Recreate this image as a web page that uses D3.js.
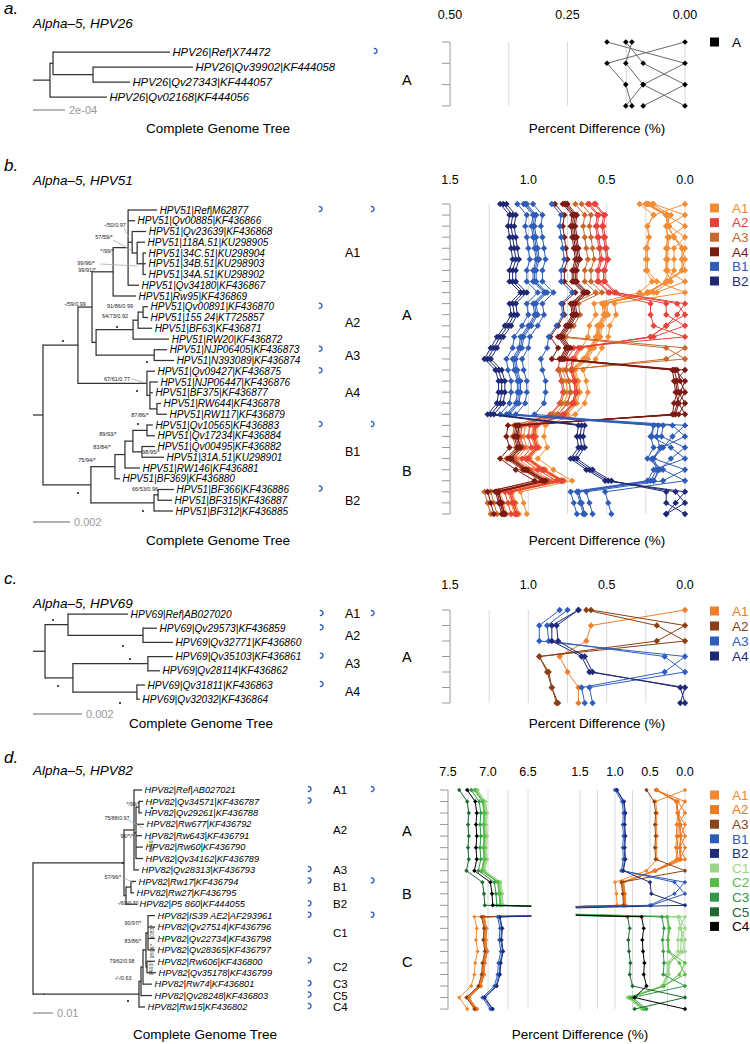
<!DOCTYPE html>
<html><head><meta charset="utf-8">
<script src="https://cdn.jsdelivr.net/npm/d3@7"></script>
<style>body{margin:0;background:#fff}text{font-family:"Liberation Sans",Arial,Helvetica,sans-serif}</style>
</head><body><script>
// ================= DATA =================
// ---- panel a (HPV26)
const tipsA = ["HPV26|Ref|X74472","HPV26|Qv39902|KF444058","HPV26|Qv27343|KF444057","HPV26|Qv02168|KF444056"];
const groupsA = ["A","A","A","A"];
const treeA = "((0:0.000731,(1:0.000625,2:0.000231):0.00025):0.000019,3:0.000356):0.000106;";
const distA = [[0.166],[0.126,0.089],[0.113,0.126,0.089]];
const ticksA = [0.5,0.25,0]; const tickLabA = ["0.50","0.25","0.00"]; const gridA = [0.375,0.25,0.125,0];
const legendA = ["A"];

// ---- panel b (HPV51)
const tipsB = ["HPV51|Ref|M62877","HPV51|Qv00885|KF436866","HPV51|Qv23639|KF436868","HPV51|118A.51|KU298905","HPV51|34C.51|KU298904","HPV51|34B.51|KU298903","HPV51|34A.51|KU298902","HPV51|Qv34180|KF436867","HPV51|Rw95|KF436869","HPV51|Qv00891|KF436870","HPV51|155 24|KT725857","HPV51|BF63|KF436871","HPV51|RW20|KF436872","HPV51|NJP06405|KF436873","HPV51|N393089|KF436874","HPV51|Qv09427|KF436875","HPV51|NJP06447|KF436876","HPV51|BF375|KF436877","HPV51|RW644|KF436878","HPV51|RW117|KF436879","HPV51|Qv10565|KF436883","HPV51|Qv17234|KF436884","HPV51|Qv00495|KF436882","HPV51|31A.51|KU298901","HPV51|RW146|KF436881","HPV51|BF369|KF436880","HPV51|BF366|KF436886","HPV51|BF315|KF436887","HPV51|BF312|KF436885"];
const groupsB = ["A1","A1","A1","A1","A1","A1","A1","A1","A1","A2","A2","A2","A2","A3","A3","A4","A4","A4","A4","A4","B1","B1","B1","B1","B1","B1","B2","B2","B2"];
const treeB_A1 = "((0:0.00157,1:0.00038,(2:0.00076,(3:0.00043,(4:0.00016,5:0.00016,6:0.00016):0.00032):0.00027):0.00022,7:0.00059):0.00081,8:0.00124):0.00114";
const treeB_A23 = "((((9:0.00027,10:0.00027):0.00027,11:0.00076):0.00027,12:0.00195):0.002,(13:0.0007,14:0.00108):0.00314):0.00022";
const treeB_A4 = "(15:0.00043,(16:0.00043,17:0.00016,(18:0.00022,19:0.00054):0.00038):0.00016):0.00373";
const treeB_B = "(((((20:0.00032,21:0.00043):0.00076,(22:0.0007,23:0.00119):0.00049):0.00043,24:0.00081):0.00054,25:0.00027):0.0013,((26:0.00086,27:0.00076):0.00022,28:0.00103):0.00341):0.00259";
const treeB = "(((" + treeB_A1 + "," + treeB_A23 + "):0.00076," + treeB_A4 + "):0.00189," + treeB_B + "):0.00054;";
const distB = [
[0.20],
[0.24,0.12],
[0.23,0.11,0.10],
[0.25,0.12,0.11,0.07],
[0.25,0.12,0.11,0.07,0.02],
[0.25,0.12,0.11,0.07,0.02,0.02],
[0.21,0.09,0.12,0.11,0.12,0.12,0.12],
[0.29,0.20,0.24,0.23,0.24,0.24,0.24,0.18],
[0.58,0.52,0.53,0.52,0.51,0.50,0.52,0.52,0.45],
[0.57,0.51,0.52,0.51,0.50,0.49,0.51,0.51,0.44,0.05],
[0.61,0.55,0.56,0.55,0.54,0.53,0.55,0.55,0.48,0.12,0.12],
[0.62,0.56,0.57,0.56,0.55,0.54,0.56,0.56,0.49,0.22,0.22,0.20],
[0.66,0.60,0.61,0.60,0.59,0.58,0.60,0.60,0.53,0.68,0.67,0.71,0.76],
[0.70,0.64,0.65,0.64,0.63,0.62,0.64,0.64,0.57,0.72,0.71,0.75,0.80,0.12],
[0.78,0.72,0.73,0.72,0.71,0.70,0.72,0.72,0.65,0.73,0.72,0.76,0.81,0.76,0.80],
[0.76,0.70,0.71,0.70,0.69,0.68,0.70,0.70,0.63,0.71,0.70,0.74,0.79,0.74,0.78,0.06],
[0.75,0.69,0.70,0.69,0.68,0.67,0.69,0.69,0.62,0.70,0.69,0.73,0.78,0.73,0.77,0.05,0.03],
[0.77,0.71,0.72,0.71,0.70,0.69,0.71,0.71,0.64,0.72,0.71,0.75,0.80,0.75,0.79,0.07,0.05,0.04],
[0.83,0.77,0.78,0.77,0.76,0.75,0.77,0.77,0.70,0.78,0.77,0.81,0.86,0.81,0.85,0.08,0.07,0.06,0.04],
[1.02,0.96,0.97,0.96,0.95,0.94,0.96,0.96,0.89,0.96,0.95,0.99,1.04,1.05,1.09,1.08,1.06,1.06,1.07,1.13],
[1.03,0.97,0.98,0.97,0.96,0.95,0.97,0.97,0.90,0.97,0.96,1.00,1.05,1.06,1.10,1.09,1.07,1.07,1.08,1.14,0.08],
[1.01,0.95,0.96,0.95,0.94,0.93,0.95,0.95,0.88,0.95,0.94,0.98,1.03,1.04,1.08,1.07,1.05,1.05,1.06,1.12,0.14,0.15],
[1.07,1.01,1.02,1.01,1.00,0.99,1.01,1.01,0.94,1.01,1.00,1.04,1.09,1.10,1.14,1.13,1.11,1.11,1.12,1.18,0.20,0.21,0.09],
[0.97,0.91,0.92,0.91,0.90,0.89,0.91,0.91,0.84,0.91,0.90,0.94,0.99,1.00,1.04,1.03,1.01,1.01,1.02,1.08,0.17,0.18,0.16,0.20],
[0.85,0.79,0.80,0.79,0.78,0.77,0.79,0.79,0.72,0.79,0.78,0.82,0.87,0.88,0.92,0.91,0.89,0.89,0.90,0.96,0.20,0.22,0.20,0.24,0.14],
[1.18,1.12,1.13,1.12,1.11,1.10,1.12,1.12,1.05,1.12,1.11,1.15,1.20,1.24,1.28,1.21,1.19,1.19,1.20,1.26,0.68,0.69,0.68,0.73,0.63,0.51],
[1.16,1.10,1.11,1.10,1.09,1.08,1.10,1.10,1.03,1.10,1.09,1.13,1.18,1.22,1.26,1.19,1.17,1.17,1.18,1.24,0.66,0.67,0.66,0.71,0.61,0.49,0.06],
[1.14,1.08,1.09,1.08,1.07,1.06,1.08,1.08,1.01,1.08,1.07,1.11,1.16,1.20,1.24,1.17,1.15,1.15,1.16,1.22,0.64,0.65,0.64,0.69,0.59,0.47,0.12,0.12]];
const ticksB = [1.5,1.0,0.5,0.0]; const tickLabB = ["1.5","1.0","0.5","0.0"]; const gridB = [1.25,1.0,0.75,0.5,0.25,0];
const legendB = ["A1","A2","A3","A4","B1","B2"];

// ---- panel c (HPV69)
const tipsC = ["HPV69|Ref|AB027020","HPV69|Qv29573|KF436859","HPV69|Qv32771|KF436860","HPV69|Qv35103|KF436861","HPV69|Qv28114|KF436862","HPV69|Qv31811|KF436863","HPV69|Qv32032|KF436864"];
const groupsC = ["A1","A2","A2","A3","A3","A4","A4"];
const treeC = "((0:0.00245,(1:0.00057,2:0.00122):0.00306):0.00094,((3:0.00102,4:0.00049):0.00306,(5:0.00033,6:0.00012):0.00261):0.00114):0.00049;";
const distC = [
[0.60],
[0.63,0.18],
[0.80,0.93,0.93],
[0.75,0.88,0.87,0.13],
[0.68,0.85,0.85,0.66,0.61],
[0.68,0.82,0.81,0.64,0.59,0.03]];
const legendC = ["A1","A2","A3","A4"];

// ---- panel d (HPV82)
const tipsD = ["HPV82|Ref|AB027021","HPV82|Qv34571|KF436787","HPV82|Qv29261|KF436788","HPV82|Rw677|KF436792","HPV82|Rw643|KF436791","HPV82|Rw60|KF436790","HPV82|Qv34162|KF436789","HPV82|Qv28313|KF436793","HPV82|Rw17|KF436794","HPV82|Rw27|KF436795","HPV82|P5 860|KF444055","HPV82|IS39 AE2|AF293961","HPV82|Qv27514|KF436796","HPV82|Qv22734|KF436798","HPV82|Qv28365|KF436797","HPV82|Rw606|KF436800","HPV82|Qv35178|KF436799","HPV82|Rw74|KF436801","HPV82|Qv28248|KF436803","HPV82|Rw15|KF436802"];
const groupsD = ["A1","A2","A2","A2","A2","A2","A2","A3","B1","B1","B2","C1","C1","C1","C1","C2","C2","C3","C5","C4"];
const treeD_AB = "((0:0.004,((1:0.002,2:0.0015):0.0015,3:0.004,4:0.003,5:0.0035,6:0.0035):0.001,7:0.0025):0.005,((8:0.0025,9:0.0015):0.0025,10:0.0055):0.001):0.0455";
const treeD_C = "((((((11:0.0035,12:0.0035,13:0.0035,14:0.0035):0.001,(15:0.004,16:0.0045):0.0005):0.0015,17:0.0045):0.001,18:0.0055):0.001,19:0.003):0.0475";
const treeD = "(" + treeD_AB + "," + treeD_C + "):0.0055;";
const distD = [
[0.42],
[0.40,0.10],
[0.41,0.12,0.10],
[0.40,0.12,0.10,0.06],
[0.41,0.13,0.11,0.08,0.07],
[0.40,0.12,0.10,0.07,0.06,0.07],
[0.55,0.44,0.42,0.43,0.42,0.43,0.42],
[1.00,0.90,0.88,0.89,0.88,0.89,0.88,0.91],
[0.98,0.88,0.86,0.87,0.86,0.87,0.86,0.89,0.15],
[0.97,0.87,0.85,0.86,0.85,0.86,0.85,0.88,0.50,0.48],
[7.17,7.07,7.05,7.06,7.05,7.06,7.05,7.08,6.88,6.86,6.85],
[7.14,7.04,7.02,7.03,7.02,7.03,7.02,7.05,6.85,6.83,6.82,0.08],
[7.15,7.05,7.03,7.04,7.03,7.04,7.03,7.06,6.86,6.84,6.83,0.10,0.06],
[7.13,7.03,7.01,7.02,7.01,7.02,7.01,7.04,6.84,6.82,6.81,0.10,0.06,0.04],
[7.16,7.06,7.04,7.05,7.04,7.05,7.04,7.07,6.87,6.85,6.84,0.25,0.22,0.24,0.23],
[7.17,7.07,7.05,7.06,7.05,7.06,7.05,7.08,6.88,6.86,6.85,0.26,0.23,0.25,0.24,0.08],
[7.21,7.11,7.09,7.10,7.09,7.10,7.09,7.12,6.92,6.90,6.89,0.33,0.30,0.32,0.31,0.30,0.31],
[7.36,7.26,7.24,7.25,7.24,7.25,7.24,7.27,7.07,7.05,7.04,0.82,0.79,0.81,0.80,0.78,0.79,0.75],
[7.26,7.16,7.14,7.15,7.14,7.15,7.14,7.17,6.97,6.95,6.94,0.62,0.59,0.61,0.60,0.58,0.59,0.55,0.72]];
const ticksDL = [7.5,7.0,6.5]; const tickLabDL = ["7.5","7.0","6.5"]; const gridDL = [7.25,7.0,6.75,6.5];
const ticksDR = [1.5,1.0,0.5,0.0]; const tickLabDR = ["1.5","1.0","0.5","0.0"]; const gridDR = [1.5,1.25,1.0,0.75,0.5,0.25,0];
const legendD = ["A1","A2","A3","B1","B2","C1","C2","C3","C5","C4"];

// ================= STYLE =================
const COL = {
  a:{A:"#000000"},
  b:{A1:"#F28C35",A2:"#E8423A",A3:"#C8682C",A4:"#7D1A14",B1:"#2F5CB8",B2:"#1E2876"},
  c:{A1:"#EE7E2C",A2:"#8B3F16",A3:"#2F5EC0",A4:"#1E2876"},
  d:{A1:"#F5882E",A2:"#EC7A24",A3:"#8B4416",B1:"#2D5DB8",B2:"#1E2A7A",C1:"#9AD58A",C2:"#58BD44",C3:"#2F9849",C5:"#1C6A30",C4:"#000000"}
};
const MARK = "#2E5FC0";

const svg = d3.select("body").append("svg").attr("width",750).attr("height",1044);
svg.append("rect").attr("width",750).attr("height",1044).attr("fill","#fff");
const defs = svg.append("defs");

function txt(x,y,s,o={}){
  const t = svg.append("text").attr("x",x).attr("y",y).text(s)
    .attr("font-size",o.size||12).attr("fill",o.fill||"#000");
  if(o.italic) t.attr("font-style","italic");
  if(o.anchor) t.attr("text-anchor",o.anchor);
  if(o.mid) t.attr("dy","0.35em");
  return t;
}

function parseNewick(s){
  let i=0;
  function node(){
    const n={children:[],name:"",len:0};
    if(s[i]==='('){ i++; n.children.push(node()); while(s[i]===','){ i++; n.children.push(node()); } i++; }
    let name=""; while(i<s.length && !":,();".includes(s[i])) name+=s[i++];
    n.name=name.trim();
    if(s[i]===':'){ i++; let num=""; while(i<s.length && !",();".includes(s[i])) num+=s[i++]; n.len=+num; }
    return n;
  }
  return node();
}

function markGlyph(x,y){
  svg.append("path").attr("d",`M${x-2.2},${y-2.4}A2.5,2.5 0 1 1 ${x-2.2},${y+2.4}`)
    .attr("fill","none").attr("stroke",MARK).attr("stroke-width",1.4);
}

function drawTree(T){
  const root = d3.hierarchy(parseNewick(T.newick), d=>d.children.length?d.children:null);
  root.each(n=>{ n.dist=(n.parent?n.parent.dist:0)+n.data.len; });
  const x = d3.scaleLinear().domain([0,1]).range([T.x0, T.x0+T.ppu]);
  root.leaves().forEach(l=>{ l.yy = T.y0 + (+l.data.name)*T.dy; });
  root.eachAfter(n=>{ if(n.children) n.yy=(n.children[0].yy+n.children[n.children.length-1].yy)/2; });
  const g = svg.append("g").attr("stroke","#333").attr("stroke-width",1.25).attr("fill","none");
  root.each(n=>{
    g.append("line").attr("x1",x(n.dist-n.data.len)).attr("x2",x(n.dist)).attr("y1",n.yy).attr("y2",n.yy);
    if(n.children) g.append("line").attr("x1",x(n.dist)).attr("x2",x(n.dist))
      .attr("y1",n.children[0].yy-0.6).attr("y2",n.children[n.children.length-1].yy+0.6);
  });
  root.leaves().forEach(l=> txt(x(l.dist)+2.5,l.yy,T.tips[+l.data.name],{size:T.font,italic:true,mid:true}));
  svg.append("line").attr("x1",x(0)).attr("x2",x(T.bar)).attr("y1",T.barY).attr("y2",T.barY)
    .attr("stroke","#999").attr("stroke-width",1.4);
  txt(x(T.bar)+4,T.barY,T.barLabel,{size:11,fill:"#999",mid:true});
  const tipY = i => T.y0 + i*T.dy;
  T.subs.forEach(([lab,a,b])=> txt(T.subX,(tipY(a)+tipY(b))/2,lab,{size:T.subSize||12.5,mid:true}));
  T.lins.forEach(([lab,a,b])=> txt(T.linX,(tipY(a)+tipY(b))/2+(T.linDy||0),lab,{size:14.5,mid:true}));
  T.mark1.forEach(i=> markGlyph(T.m1x,tipY(i)-1));
  T.mark2.forEach(i=> markGlyph(T.m2x,tipY(i)-1));
}

function drawProfiles(P){
  const n = P.groups.length;
  const D = (i,j)=> i===j?0:(i>j?P.dist[i-1][j]:P.dist[j-1][i]);
  const ry = i => P.y0 + i*P.dy;
  const diamond = r => `M0,${-r}L${r},0L0,${r}L${-r},0Z`;
  P.panels.forEach((pp,k)=>{
    const x = d3.scaleLinear().domain(pp.domain).range(pp.range);
    svg.append("g").selectAll("line").data(pp.grid).join("line")
      .attr("x1",d=>x(d)).attr("x2",d=>x(d)).attr("y1",ry(0)).attr("y2",ry(n-1))
      .attr("stroke","#dadada").attr("stroke-width",1);
    svg.append("g").selectAll("text").data(pp.ticks).join("text")
      .attr("x",d=>x(d)).attr("y",P.tickY).attr("dy","0.35em").attr("text-anchor","middle")
      .attr("font-size",12.5).text((d,i)=>pp.labels[i]);
    const lo=Math.min(...pp.domain), hi=Math.max(...pp.domain), pad=(hi-lo)*0.04;
    const g = svg.append("g");
    const cid = "clip_"+P.id+"_"+k;
    defs.append("clipPath").attr("id",cid).append("rect")
      .attr("x",x(hi+pad)).attr("width",x(lo-pad)-x(hi+pad)).attr("y",ry(0)-8).attr("height",ry(n-1)-ry(0)+16);
    g.attr("clip-path",`url(#${cid})`);
    for(let s=0;s<n;s++){
      const vals = d3.range(n).map(t=>D(s,t));
      const col = P.colors[P.groups[s]];
      g.append("path").attr("d",d3.line().x(v=>x(v)).y((v,t)=>ry(t))(vals))
        .attr("fill","none").attr("stroke",P.lineColor||col).attr("stroke-width",1);
      const pts = vals.map((v,t)=>[v,t]).filter(([v])=>v>=lo-pad && v<=hi+pad);
      g.append("g").selectAll("path").data(pts).join("path")
        .attr("transform",([v,t])=>`translate(${x(v)},${ry(t)})`)
        .attr("d",diamond(P.r)).attr("fill",P.markerColor||col);
    }
    if(k===0){
      const ax = x(pp.domain[0]);
      const ga = svg.append("g").attr("stroke","#999").attr("stroke-width",1);
      ga.append("line").attr("x1",ax).attr("x2",ax).attr("y1",ry(0)).attr("y2",ry(n-1));
      d3.range(n).forEach(i=> ga.append("line").attr("x1",ax-8).attr("x2",ax).attr("y1",ry(i)).attr("y2",ry(i)));
    }
  });
  P.legend.forEach((lab,i)=>{
    const y = P.legY + i*P.legDy;
    svg.append("rect").attr("x",710).attr("y",y-4.5).attr("width",9).attr("height",9).attr("fill",P.colors[lab]);
    txt(732,y,lab,{size:13.5,fill:P.colors[lab],mid:true});
  });
}

function annot(list,size){ list.forEach(([s,x,y])=> txt(x,y,s,{size:size||5.8,anchor:"middle",mid:true,fill:"#222"})); }
function annotV(list){ list.forEach(([s,x,y])=> txt(0,0,s,{size:4.6,anchor:"middle",fill:"#222"}).attr("transform",`translate(${x},${y}) rotate(-90)`).attr("dy","0.35em")); }
function dots(list){ svg.append("g").selectAll("circle").data(list).join("circle").attr("cx",d=>d[0]).attr("cy",d=>d[1]).attr("r",1.1).attr("fill","#222"); }
function leaders(list){ svg.append("g").selectAll("line").data(list).join("line").attr("x1",d=>d[0]).attr("y1",d=>d[1]).attr("x2",d=>d[2]).attr("y2",d=>d[3]).attr("stroke","#aaa").attr("stroke-width",0.8); }

// ================= PANEL a =================
txt(4,14,"a.",{size:17,italic:true});
txt(33,28,"Alpha–5, HPV26",{size:13.5,italic:true});
drawTree({newick:treeA,tips:tipsA,x0:33,ppu:160000,y0:52,dy:15,font:11.3,bar:0.0002,barLabel:"2e-04",barY:110,
  subs:[],lins:[["A",0,3]],linDy:5,subX:345,linX:402,mark1:[],mark2:[0],m1x:321,m2x:376});
drawProfiles({id:"a",groups:groupsA,dist:distA,colors:COL.a,y0:42,dy:21.3,r:2.8,lineColor:"#6a6a6a",markerColor:"#000",tickY:15,
  panels:[{domain:[0.5,0],range:[450,685],ticks:ticksA,labels:tickLabA,grid:gridA}],legend:legendA,legY:42,legDy:15});
txt(218,128,"Complete Genome Tree",{size:13.5,anchor:"middle",mid:true});
txt(597,128,"Percent Difference (%)",{size:13.5,anchor:"middle",mid:true});

// ================= PANEL b =================
txt(4,171,"b.",{size:17,italic:true});
txt(33,185,"Alpha–5, HPV51",{size:13.5,italic:true});
drawTree({newick:treeB,tips:tipsB,x0:33,ppu:18500,y0:210,dy:10.75,font:10,bar:0.002,barLabel:"0.002",barY:522,
  subs:[["A1",0,8],["A2",9,12],["A3",13,14],["A4",15,19],["B1",20,25],["B2",26,28]],lins:[["A",0,19],["B",20,28]],linDy:3,
  subX:345,linX:402,mark1:[0,9,13,15,20,26],mark2:[0,20],m1x:321,m2x:373});
annot([["-/50/0.97",115,225],["57/59/*",104,237],["*/99/*",107,251],["99/96/*",86,263],["99/91/*",87,270],
  ["-/59/0.99",75,304],["91/86/0.99",120,306],["64/73/0.92",115,316],["67/61/0.77",117,379],["87/86/*",140,415],
  ["89/93/*",108,434],["83/84/*",102,447],["98/95/*",151,452.5],["75/94/*",87,460],["66/53/0.96",145,489]],5.5);
leaders([[124,228,129,238],[113,240,131,250],[100,264,137,266],[131,379,146,383]]);
dots([[63,341],[117,327],[147,362],[137,391],[138,424],[78,493],[143,511]]);
drawProfiles({id:"b",groups:groupsB,dist:distB,colors:COL.b,y0:204,dy:11.07,r:3.2,tickY:180,
  panels:[{domain:[1.5,0],range:[450,685],ticks:ticksB,labels:tickLabB,grid:gridB}],legend:legendB,legY:208,legDy:14.6});
txt(218,540,"Complete Genome Tree",{size:13.5,anchor:"middle",mid:true});
txt(597,540,"Percent Difference (%)",{size:13.5,anchor:"middle",mid:true});

// ================= PANEL c =================
txt(4,584,"c.",{size:17,italic:true});
txt(33,608,"Alpha–5, HPV69",{size:13.5,italic:true});
drawTree({newick:treeC,tips:tipsC,x0:33,ppu:24500,y0:614,dy:14.2,font:10.2,bar:0.002,barLabel:"0.002",barY:714,
  subs:[["A1",0,0],["A2",1,2],["A3",3,4],["A4",5,6]],lins:[["A",0,6]],
  subX:345,linX:402,mark1:[0,1,3,5],mark2:[0],m1x:322,m2x:373});
dots([[53,620],[123,646],[130,659],[58,686],[120,703]]);
drawProfiles({id:"c",groups:groupsC,dist:distC,colors:COL.c,y0:610,dy:15.5,r:3.2,tickY:585,
  panels:[{domain:[1.5,0],range:[450,685],ticks:ticksB,labels:tickLabB,grid:gridB}],legend:legendC,legY:611,legDy:15});
txt(201,723,"Complete Genome Tree",{size:13.5,anchor:"middle",mid:true});
txt(597,723,"Percent Difference (%)",{size:13.5,anchor:"middle",mid:true});

// ================= PANEL d =================
txt(4,763,"d.",{size:17,italic:true});
txt(33,775,"Alpha–5, HPV82",{size:13.5,italic:true});
drawTree({newick:treeD,tips:tipsD,x0:33,ppu:2000,y0:790,dy:11.42,font:9.2,bar:0.01,barLabel:"0.01",barY:1013,
  subs:[["A1",0,0],["A2",1,6],["A3",7,7],["B1",8,9],["B2",10,10],["C1",11,14],["C2",15,16],["C3",17,17],["C5",18,18],["C4",19,19]],
  subSize:11.5,lins:[["A",0,7],["B",8,10],["C",11,19]],linDy:1,
  subX:333,linX:402,mark1:[0,1,7,8,10,11,15,17,18,19],mark2:[0,8,11],m1x:310,m2x:373});
annot([["*/99/*",133,804],["75/88/0.97",117,818],["96/*/*",127,836],["57/96/*",113,877],
  ["-/60/0.70",128,903],["90/97/*",133,923],["83/86/*",133,941],
  ["79/62/0.98",122,961],["-/-/0.63",123,978]],5.3);
annotV([["82/80/*",151.5,845],["90/83/*",152.5,932],["98/96/*",152.5,951],["94/93/*",151.5,968]]);
leaders([[128,820,143,828],[122,877,134,883]]);
dots([[123,863],[152,808],[128,1001]]);
drawProfiles({id:"d",groups:groupsD,dist:distD,colors:COL.d,y0:790,dy:11.53,r:2.2,tickY:772,
  panels:[{domain:[7.5,6.5],range:[448,528],ticks:ticksDL,labels:tickLabDL,grid:gridDL},
          {domain:[1.5,0],range:[580,685],ticks:ticksDR,labels:tickLabDR,grid:gridDR}],
  legend:legendD,legY:795,legDy:14.6});
txt(205,1034,"Complete Genome Tree",{size:13.5,anchor:"middle",mid:true});
txt(580,1034,"Percent Difference (%)",{size:13.5,anchor:"middle",mid:true});
</script></body></html>
